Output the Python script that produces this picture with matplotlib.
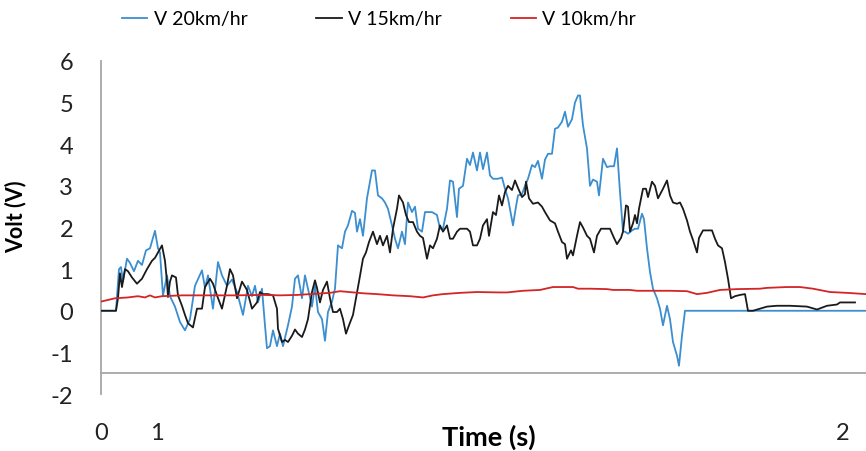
import matplotlib.pyplot as plt

# (sample number, voltage) for each speed
v20_points = [
    (0, 0), (15, 0), (18, 1.0), (20, 1.05), (22, 0.7), (26, 1.25), (29, 1.15), (33, 0.95),
    (37, 1.2), (41, 1.1), (45, 1.45), (49, 1.5), (54, 1.92), (57, 1.5), (59, 1.4), (62, 0.36),
    (66, 0.85), (69, 0.35), (74, 0.1), (79, -0.27), (84, -0.47), (89, -0.2), (94, 0.6),
    (101, 0.97), (104, 0.55), (107, 0.85), (112, 0.05), (117, 1.17), (121, 0.85), (126, 0.6),
    (131, 0.75), (136, 0.45), (142, -0.1), (147, 0.6), (151, 0.35), (154, 0.6), (157, 0.2),
    (161, 0.53), (164, -0.35), (166, -0.9), (169, -0.85), (172, -0.47), (176, -0.85),
    (179, -0.55), (182, -0.85), (187, -0.35), (191, 0.1), (194, 0.77), (197, 0.85), (201, 0.3),
    (204, 0.85), (207, 0.53), (211, 0.1), (214, 0.6), (217, -0.03), (221, -0.2), (224, -0.72),
    (227, -0.03), (231, 0.22), (234, 0.53), (237, 1.57), (241, 1.5), (244, 1.9), (247, 2.05),
    (251, 2.4), (254, 2.35), (256, 1.9), (259, 2.2), (262, 1.8), (266, 2.7), (271, 3.37),
    (274, 3.37), (277, 2.77), (281, 2.7), (284, 2.6), (287, 2.45), (291, 2.05), (294, 1.73),
    (297, 1.5), (301, 1.9), (304, 1.6), (307, 2.6), (311, 2.37), (314, 2.5), (317, 1.97),
    (321, 1.9), (324, 2.37), (331, 2.37), (336, 2.3), (339, 1.97), (342, 1.97), (346, 2.45),
    (349, 3.13), (352, 3.1), (356, 2.25), (358, 2.93), (362, 3.0), (366, 3.65), (369, 3.5),
    (372, 3.8), (376, 3.37), (379, 3.8), (382, 3.4), (386, 3.8), (389, 3.25), (392, 3.17),
    (397, 3.17), (401, 3.2), (404, 2.93), (407, 2.7), (412, 2.05), (415, 2.5), (417, 2.77),
    (421, 2.8), (424, 3.0), (427, 3.17), (431, 3.5), (434, 3.45), (437, 3.6), (441, 3.17),
    (444, 3.63), (447, 3.77), (451, 3.77), (454, 4.37), (457, 4.4), (461, 4.54), (464, 4.78),
    (467, 4.42), (471, 4.6), (474, 5.0), (477, 5.17), (479, 5.17), (482, 4.45), (486, 3.9),
    (489, 3.0), (492, 3.15), (496, 3.1), (498, 2.77), (502, 3.65), (506, 3.45), (509, 3.47),
    (513, 3.47), (516, 3.9), (519, 2.85), (522, 1.9), (524, 1.9), (527, 1.85), (531, 1.93),
    (534, 1.97), (537, 1.97), (541, 2.33), (543, 2.2), (546, 1.5), (549, 0.93), (552, 0.53),
    (556, 0.3), (559, 0.05), (562, -0.35), (566, 0.12), (569, -0.2), (572, -0.75),
    (576, -1.08), (578, -1.32), (581, -0.6), (584, 0), (765, 0),
]

v15_points = [
    (0, 0), (15, 0), (17, 0.3), (19, 0.9), (21, 0.57), (24, 1.0), (27, 0.95), (31, 0.8),
    (36, 0.65), (41, 0.77), (46, 1.0), (51, 1.2), (54, 1.27), (57, 1.4), (61, 1.57), (64, 1.2),
    (66, 0.7), (67, 0.33), (69, 0.7), (71, 0.85), (75, 0.8), (77, 0.37), (81, 0.12), (84, -0.1),
    (87, -0.3), (92, -0.4), (96, 0.05), (101, 0.05), (104, 0.57), (109, 0.77), (112, 0.65),
    (116, 0.37), (121, 0.05), (126, 0.6), (129, 1.0), (132, 0.85), (136, 0.3), (141, 0.7),
    (146, 0.5), (151, 0.05), (156, 0.2), (159, 0.45), (162, 0.4), (167, 0.4), (172, 0.37),
    (176, 0.05), (177, -0.43), (181, -0.75), (184, -0.7), (187, -0.75), (191, -0.6),
    (194, -0.45), (197, -0.55), (201, -0.63), (204, -0.45), (207, -0.2), (211, 0.45),
    (214, 0.73), (216, 0.55), (219, 0.2), (222, 0.5), (226, 0.7), (229, 0.3), (232, -0.03),
    (236, -0.03), (239, 0.05), (242, -0.2), (245, -0.55), (248, -0.35), (252, -0.1), (255, 0.3),
    (258, 0.7), (262, 1.25), (265, 1.4), (268, 1.65), (272, 1.9), (276, 1.6), (279, 1.8),
    (282, 1.57), (286, 1.8), (289, 1.4), (292, 1.97), (296, 2.45), (298, 2.77), (302, 2.6),
    (305, 2.3), (308, 2.13), (312, 2.13), (316, 1.9), (319, 1.8), (322, 1.75), (326, 1.25),
    (329, 1.57), (332, 1.5), (336, 1.73), (339, 2.05), (342, 1.9), (346, 2.05), (349, 1.73),
    (352, 1.73), (356, 1.9), (359, 1.97), (362, 1.97), (366, 1.97), (369, 1.9), (372, 1.57),
    (376, 1.57), (379, 1.73), (382, 2.05), (386, 2.2), (388, 1.8), (392, 2.37), (395, 2.3),
    (398, 2.77), (401, 2.53), (404, 2.85), (407, 3.0), (411, 2.9), (414, 3.13), (417, 2.95),
    (421, 2.73), (424, 2.8), (425, 3.1), (428, 2.7), (432, 2.57), (437, 2.6), (441, 2.5),
    (444, 2.37), (449, 2.17), (454, 2.1), (457, 1.9), (461, 1.65), (464, 1.6), (466, 1.25),
    (470, 1.45), (472, 1.33), (476, 1.8), (479, 2.13), (482, 2.0), (486, 1.8), (489, 1.73),
    (493, 1.4), (496, 1.8), (500, 1.97), (504, 1.97), (509, 1.97), (513, 1.75), (516, 1.6),
    (520, 1.75), (522, 1.9), (525, 2.53), (527, 2.5), (529, 1.9), (532, 2.1), (534, 2.3),
    (536, 2.1), (538, 2.45), (542, 2.93), (545, 2.93), (547, 2.73), (551, 3.1), (554, 3.0),
    (557, 2.7), (562, 2.93), (566, 3.13), (569, 2.77), (572, 2.6), (576, 2.57), (579, 2.6),
    (582, 2.45), (586, 2.17), (589, 1.9), (592, 1.7), (596, 1.4), (598, 1.75), (602, 1.93),
    (606, 1.93), (611, 1.93), (614, 1.73), (617, 1.57), (621, 1.5), (624, 1.17), (627, 0.77),
    (630, 0.3), (634, 0.35), (639, 0.38), (644, 0.4), (647, 0.0), (652, 0.0), (666, 0.1),
    (676, 0.12), (689, 0.12), (706, 0.1), (716, 0.03), (726, 0.12), (736, 0.15), (739, 0.2),
    (754, 0.2),
]

v10_points = [
    (0, 0.22), (14, 0.3), (27, 0.32), (37, 0.35), (44, 0.32), (49, 0.37), (54, 0.32),
    (61, 0.35), (81, 0.37), (94, 0.37), (134, 0.37), (162, 0.38), (179, 0.37), (196, 0.38),
    (229, 0.43), (239, 0.47), (262, 0.42), (276, 0.4), (292, 0.37), (309, 0.35), (322, 0.32),
    (332, 0.37), (342, 0.4), (359, 0.43), (376, 0.45), (399, 0.44), (406, 0.44), (422, 0.48),
    (439, 0.5), (452, 0.57), (472, 0.57), (477, 0.53), (489, 0.53), (506, 0.52), (512, 0.5),
    (529, 0.5), (536, 0.48), (552, 0.48), (569, 0.48), (586, 0.47), (596, 0.4), (606, 0.43),
    (619, 0.5), (636, 0.52), (659, 0.53), (666, 0.55), (686, 0.57), (699, 0.57), (712, 0.53),
    (729, 0.45), (746, 0.43), (765, 0.4),
]

series_labels = ['V 20km/hr', 'V 15km/hr', 'V 10km/hr']
series_colors = ['#3b8ed0', '#1a1a1a', '#d42424']
x_tick_pos = [0, 56, 742]
x_tick_labels = ['0', '1', '2']
y_ticks = [-2, -1, 0, 1, 2, 3, 4, 5, 6]

plt.rcParams['font.family'] = ['Lato', 'DejaVu Sans']

fig = plt.figure(figsize=(8.66, 4.52), dpi=100)
ax = fig.add_axes([0.1166, 0.126, 0.8834, 0.737])

for z, (pts, label, color) in enumerate(zip([v20_points, v15_points, v10_points],
                                            series_labels, series_colors)):
    t, v = zip(*pts)
    ax.plot(t, v, color=color, lw=1.3, label=label, zorder=2 + z)

ax.set_xlim(0, 765)
ax.set_ylim(-2, 6)
ax.set_yticks(y_ticks)
ax.set_yticklabels([str(v) for v in y_ticks])
ax.set_xticks(x_tick_pos)
ax.set_xticklabels(x_tick_labels)
ax.tick_params(axis='both', length=0, labelsize=17, colors='#222222')
ax.tick_params(axis='y', pad=20)
ax.tick_params(axis='x', pad=35)

for s in ['top', 'right']:
    ax.spines[s].set_visible(False)
ax.spines['bottom'].set_position(('data', -1.5))
for s in ['bottom', 'left']:
    ax.spines[s].set_color('#a6a6a6')
    ax.spines[s].set_linewidth(1.3)

ax.set_ylabel('Volt (V)', fontsize=15.5, fontweight='bold')
ax.yaxis.set_label_coords(-0.098, 0.535)
ax.set_xlabel('Time (s)', fontsize=19.5, fontweight='bold')
ax.xaxis.set_label_coords(0.507, -0.088)

ax.legend(loc='center left', bbox_to_anchor=(0.0275, 1.126), ncol=3, frameon=False,
          fontsize=14, handlelength=1.3, handletextpad=0.32, columnspacing=3.55,
          borderaxespad=0, borderpad=0)

fig.savefig('out.png', dpi=100)
